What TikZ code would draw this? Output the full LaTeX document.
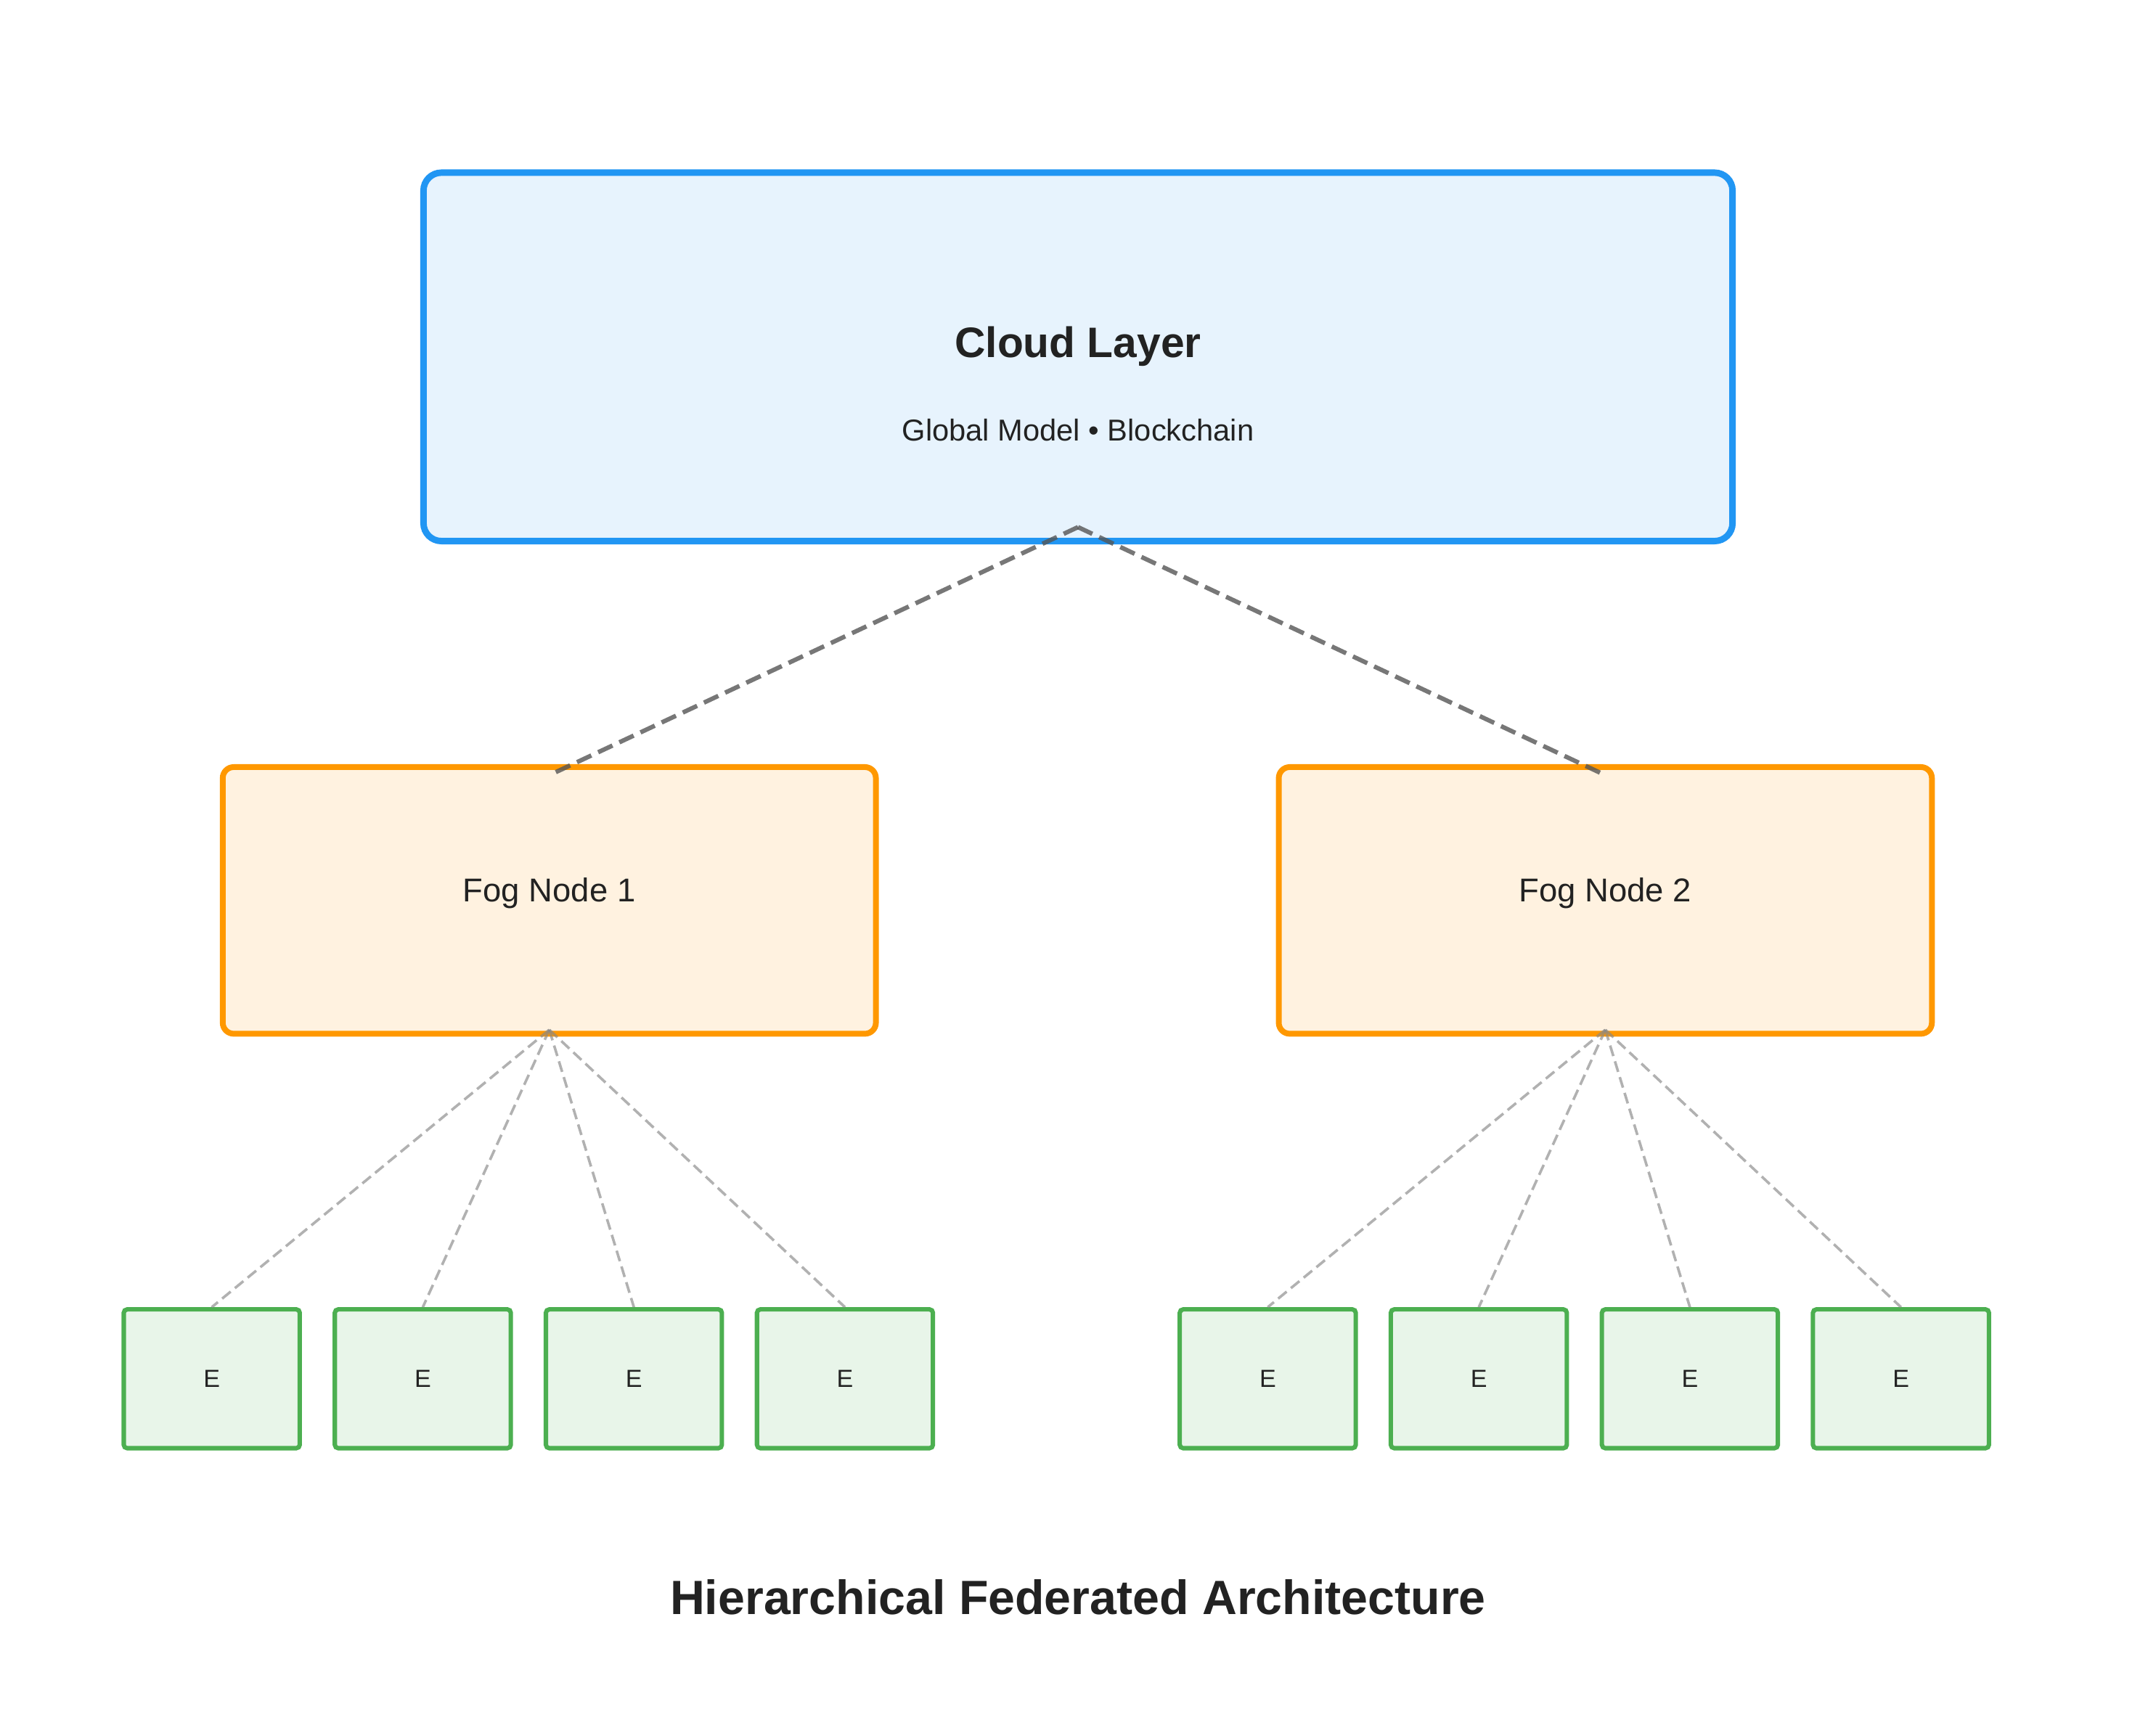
\documentclass[tikz,border=0pt]{standalone}
\usepackage{fontspec}
\setmainfont{Liberation Sans}
\usetikzlibrary{positioning,calc}
\definecolor{cloudline}{HTML}{2196F3}
\definecolor{cloudfill}{HTML}{E7F3FD}
\definecolor{fogline}{HTML}{FF9800}
\definecolor{fogfill}{HTML}{FFF2E0}
\definecolor{edgeline}{HTML}{4CAF50}
\definecolor{edgefill}{HTML}{E8F5E9}
\definecolor{textdark}{HTML}{222222}
\definecolor{linkdark}{HTML}{555555}
\definecolor{linklight}{HTML}{888888}

\begin{document}
\begin{tikzpicture}
  [x=1pt,y=-1pt,every node/.style={text=textdark}]
  \tikzstyle{cloudbox}=[draw=cloudline,fill=cloudfill,line width=4.7pt,rounded corners=13pt,minimum width=952pt,minimum height=268pt]
  \tikzstyle{fogbox}=[draw=fogline,fill=fogfill,line width=4.2pt,rounded corners=8pt,minimum width=475pt,minimum height=194pt]
  \tikzstyle{edgebox}=[draw=edgeline,fill=edgefill,line width=3.2pt,rounded corners=2.5pt,minimum width=128pt,minimum height=101pt,font=\fontsize{18}{22}\selectfont]
  \tikzstyle{foglabel}=[font=\fontsize{24}{28}\selectfont,yshift=5pt]
  \tikzstyle{uplink}=[draw=linkdark,opacity=.8,line width=3.2pt,dash pattern=on 11.5pt off 5.5pt]
  \tikzstyle{downlink}=[draw=linklight,opacity=.65,line width=1.9pt,dash pattern=on 8pt off 4pt]
  \useasboundingbox (0,0) rectangle (1568,1251.2);
  \fill[white] (0,0) rectangle (1568,1251.2);

  \node[cloudbox] (cloud) at (784,259.6) {};
  \node[font=\fontsize{31}{36}\selectfont\bfseries] (cloudtitle) at (784,252) {Cloud Layer};
  \node[font=\fontsize{22}{26}\selectfont] (cloudsub) at (784,313) {Global Model • Blockchain};

  \node[fogbox,label={[foglabel]center:Fog Node 1}] (fog1) at (399.5,655) {};
  \node[fogbox,label={[foglabel]center:Fog Node 2}] (fog2) at (1167.5,655) {};

  \node[edgebox] (e1) at (154,1003) {E};
  \node[edgebox] (e2) at (307.5,1003) {E};
  \node[edgebox] (e3) at (461,1003) {E};
  \node[edgebox] (e4) at (614.5,1003) {E};
  \node[edgebox] (e5) at (922,1003) {E};
  \node[edgebox] (e6) at (1075.5,1003) {E};
  \node[edgebox] (e7) at (1229,1003) {E};
  \node[edgebox] (e8) at (1382.5,1003) {E};

  \draw[uplink] ([yshift=12.5pt]cloud.south) -- ([yshift=-8pt]fog1.north);
  \draw[uplink] ([yshift=12.5pt]cloud.south) -- ([yshift=-8pt]fog2.north);

  \draw[downlink] ([yshift=5pt]fog1.south) -- (e1.north);
  \draw[downlink] ([yshift=5pt]fog1.south) -- (e2.north);
  \draw[downlink] ([yshift=5pt]fog1.south) -- (e3.north);
  \draw[downlink] ([yshift=5pt]fog1.south) -- (e4.north);
  \draw[downlink] ([yshift=5pt]fog2.south) -- (e5.north);
  \draw[downlink] ([yshift=5pt]fog2.south) -- (e6.north);
  \draw[downlink] ([yshift=5pt]fog2.south) -- (e7.north);
  \draw[downlink] ([yshift=5pt]fog2.south) -- (e8.north);

  \node[font=\fontsize{35}{42}\selectfont\bfseries] (caption) at (784,1162) {Hierarchical Federated Architecture};
\end{tikzpicture}
\end{document}
